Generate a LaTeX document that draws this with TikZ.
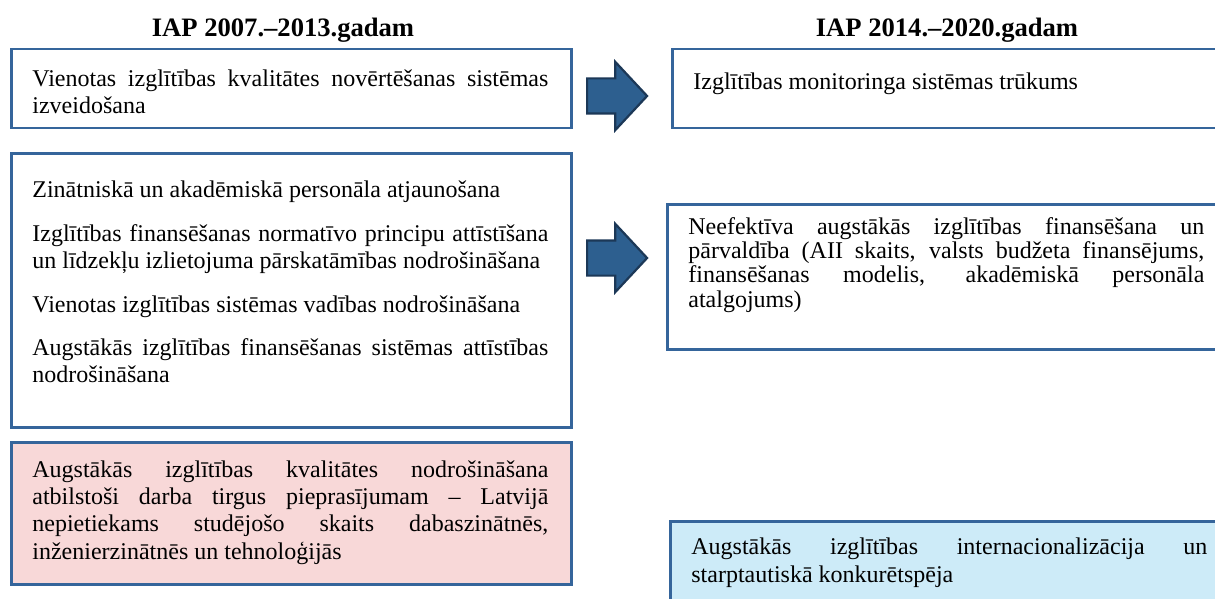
\documentclass[tikz,border=0pt]{standalone}
\usepackage{fontspec}
\setmainfont{Liberation Serif}
\usetikzlibrary{shapes.arrows}
\definecolor{frameblue}{HTML}{35659B}
\definecolor{arrowfill}{HTML}{2D5F8F}
\definecolor{arrowline}{HTML}{1C3857}
\definecolor{oldpink}{HTML}{F8D8D8}
\definecolor{newblue}{HTML}{CDEBF8}
\hyphenpenalty=10000
\exhyphenpenalty=10000
\tolerance=10000
\begin{document}
\begin{tikzpicture}[x=0.5pt,y=-0.5pt,
box/.style ={rectangle, draw=frameblue, line width=1.25pt, fill=white,
  minimum width=280pt, inner sep=0pt, anchor=north west
},
txt/.style ={text width=258pt, align=justify, inner sep=0pt,
  anchor=base west, font=\fontsize{12}{13.5}\selectfont
},
head/.style ={font=\fontsize{13.3}{16}\selectfont\bfseries},
bigarrow/.style ={single arrow, draw=arrowline, fill=arrowfill, line width=1.1pt,
  minimum height=30pt, minimum width=33pt, single arrow head extend=8.25pt,
  single arrow tip angle=94, inner xsep=0pt, inner ysep=8.25pt, anchor=tail
}]
\clip (0,0) rectangle (1215,599);
\node (h1) at (283,30) [head] {IAP 2007.–2013.gadam};
\node (h2) at (947,30) [head] {IAP 2014.–2020.gadam};
% old plan
\node (o1) at (10,48) [box, minimum height=39.5pt] {};
\node (o2) at (10,152) [box, minimum height=137pt] {};
\node (o3) at (10,441) [box, fill=oldpink, minimum height=71pt] {};
\node (o1t) at (32,86.5) [txt] {Vienotas izglītības kvalitātes novērtēšanas sistēmas izveidošana};
\node (o2t) at (32,198) [txt] {Zinātniskā un akadēmiskā personāla atjaunošana\\[8.3pt]
  Izglītības finansēšanas normatīvo principu attīstīšana un līdzekļu izlietojuma pārskatāmības nodrošināšana\\[8.3pt]
  Vienotas izglītības sistēmas vadības nodrošināšana\\[8.3pt]
  Augstākās izglītības finansēšanas sistēmas attīstības nodrošināšana};
\node (o3t) at (32,477) [txt, font=\fontsize{12}{13.7}\selectfont] {Augstākās izglītības kvalitātes nodrošināšana atbilstoši darba tirgus pieprasījumam – Latvijā nepietiekams studējošo skaits dabaszinātnēs, inženierzinātnēs un tehnoloģijās};
% new plan
\node (n1) at (671,48) [box, minimum height=39.5pt] {};
\node (n2) at (666,203) [box, minimum height=72.5pt] {};
\node (n3) at (669,520) [box, fill=newblue, minimum height=50pt] {};
\node (n1t) at (693,90) [txt] {Izglītības monitoringa sistēmas trūkums};
\node (n2t) at (688,234.5) [txt, font=\fontsize{12}{12.1}\selectfont] {Neefektīva augstākās izglītības finansēšana un pārvaldība (AII skaits, valsts budžeta finansējums, finansēšanas modelis, akadēmiskā personāla atalgojums)};
\node (n3t) at (691,554) [txt, font=\fontsize{12}{14}\selectfont] {Augstākās izglītības internacionalizācija un starptautiskā konkurētspēja};
% arrows
\node (a1) at (586,96) [bigarrow] {};
\node (a2) at (586,258) [bigarrow] {};
\end{tikzpicture}
\end{document}
